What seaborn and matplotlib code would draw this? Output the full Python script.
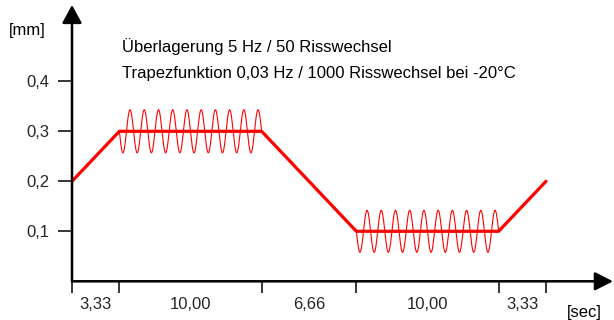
import numpy as np
import pandas as pd
import matplotlib
matplotlib.use("Agg")
import matplotlib.pyplot as plt
import seaborn as sns

# ---- data ----
segment_durations = [3.33, 10.00, 6.66, 10.00, 3.33]      # seconds
segment_labels = ["3,33", "10,00", "6,66", "10,00", "3,33"]
trapez_levels = [0.2, 0.3, 0.3, 0.1, 0.1, 0.2]             # mm at the segment boundaries
overlay_segments = [1, 3]                                  # plateaus carrying the 5 Hz overlay
overlay_cycles = [10, 10]
overlay_amplitude = [0.043, 0.042]                          # mm
y_ticks = [0.1, 0.2, 0.3, 0.4]
y_ticklabels = ["0,1", "0,2", "0,3", "0,4"]
note_lines = ["Überlagerung 5 Hz / 50 Risswechsel",
              "Trapezfunktion 0,03 Hz / 1000 Risswechsel bei -20°C"]

# ---- build tables ----
bounds = np.concatenate([[0.0], np.cumsum(segment_durations)])
trapez = pd.DataFrame({"t": bounds, "mm": trapez_levels})

sine_frames = []
for seg, cyc, amp in zip(overlay_segments, overlay_cycles, overlay_amplitude):
    t0, t1 = bounds[seg], bounds[seg + 1]
    lvl = trapez_levels[seg]
    tt = np.linspace(t0, t1, 600)
    sine_frames.append(pd.DataFrame({"t": tt,
                                     "mm": lvl - amp * np.sin(2 * np.pi * cyc * (tt - t0) / (t1 - t0)),
                                     "seg": seg}))
sines = pd.concat(sine_frames, ignore_index=True)

# ---- figure ----
sns.set_style("white")
plt.rcParams["font.family"] = ["Liberation Sans", "DejaVu Sans"]
W, H = 614, 320
FS = 12
fig = plt.figure(figsize=(W / 100, H / 100), dpi=100)
px_per_s = (546 - 72) / bounds[-1]
ax = fig.add_axes([72 / W, (H - 281.3) / H, (613 - 72) / W, (281.3 - 5) / H])
ax.set_xlim(0, (613 - 72) / px_per_s)
ax.set_ylim(0, (281.3 - 5) / 500)

for seg in overlay_segments:
    sns.lineplot(data=sines[sines.seg == seg], x="t", y="mm", ax=ax, color="#ff0000",
                 linewidth=0.8, sort=False, estimator=None, clip_on=False)
sns.lineplot(data=trapez, x="t", y="mm", ax=ax, color="#ff0000", linewidth=2.3,
             sort=False, estimator=None, clip_on=False)

for s in ax.spines.values():
    s.set_visible(False)

ax.annotate("", xy=(1, 0), xycoords="axes fraction", xytext=(0, 0),
            arrowprops=dict(arrowstyle="-|>,head_length=0.55,head_width=0.28", lw=1.8,
                            color="black", mutation_scale=20, shrinkA=0, shrinkB=0))
ax.annotate("", xy=(0, 1), xycoords="axes fraction", xytext=(0, 0),
            arrowprops=dict(arrowstyle="-|>,head_length=0.55,head_width=0.3", lw=1.8,
                            color="black", mutation_scale=20, shrinkA=0, shrinkB=0))

# x ticks: boundaries as marks, labels at segment midpoints
ax.set_xticks(bounds)
ax.set_xticklabels([""] * len(bounds))
mids = (bounds[:-1] + bounds[1:]) / 2
ax.set_xticks(mids, minor=True)
ax.set_xticklabels(segment_labels, minor=True, fontsize=FS)
ax.tick_params(axis="x", which="major", direction="out", length=8.6, width=1.1,
               color="black", bottom=True)
ax.tick_params(axis="x", which="minor", length=0, pad=11, bottom=True)

ax.set_yticks(y_ticks)
ax.set_yticklabels(y_ticklabels, fontsize=FS)
ax.tick_params(axis="y", direction="out", length=10, width=1.1, color="black",
               pad=6, left=True)
ax.set_xlabel("")
ax.set_ylabel("")
ax.grid(False)

def ftext(x, y, s, **kw):
    fig.text(x / W, 1 - y / H, s, fontsize=FS, color="black", **kw)

ftext(9, 30, "[mm]", va="center", ha="left")
ftext(567, 312, "[sec]", va="center", ha="left")
ftext(122, 52, note_lines[0], va="baseline", ha="left")
ftext(122, 78, note_lines[1], va="baseline", ha="left")

fig.savefig("out.png", dpi=100)
